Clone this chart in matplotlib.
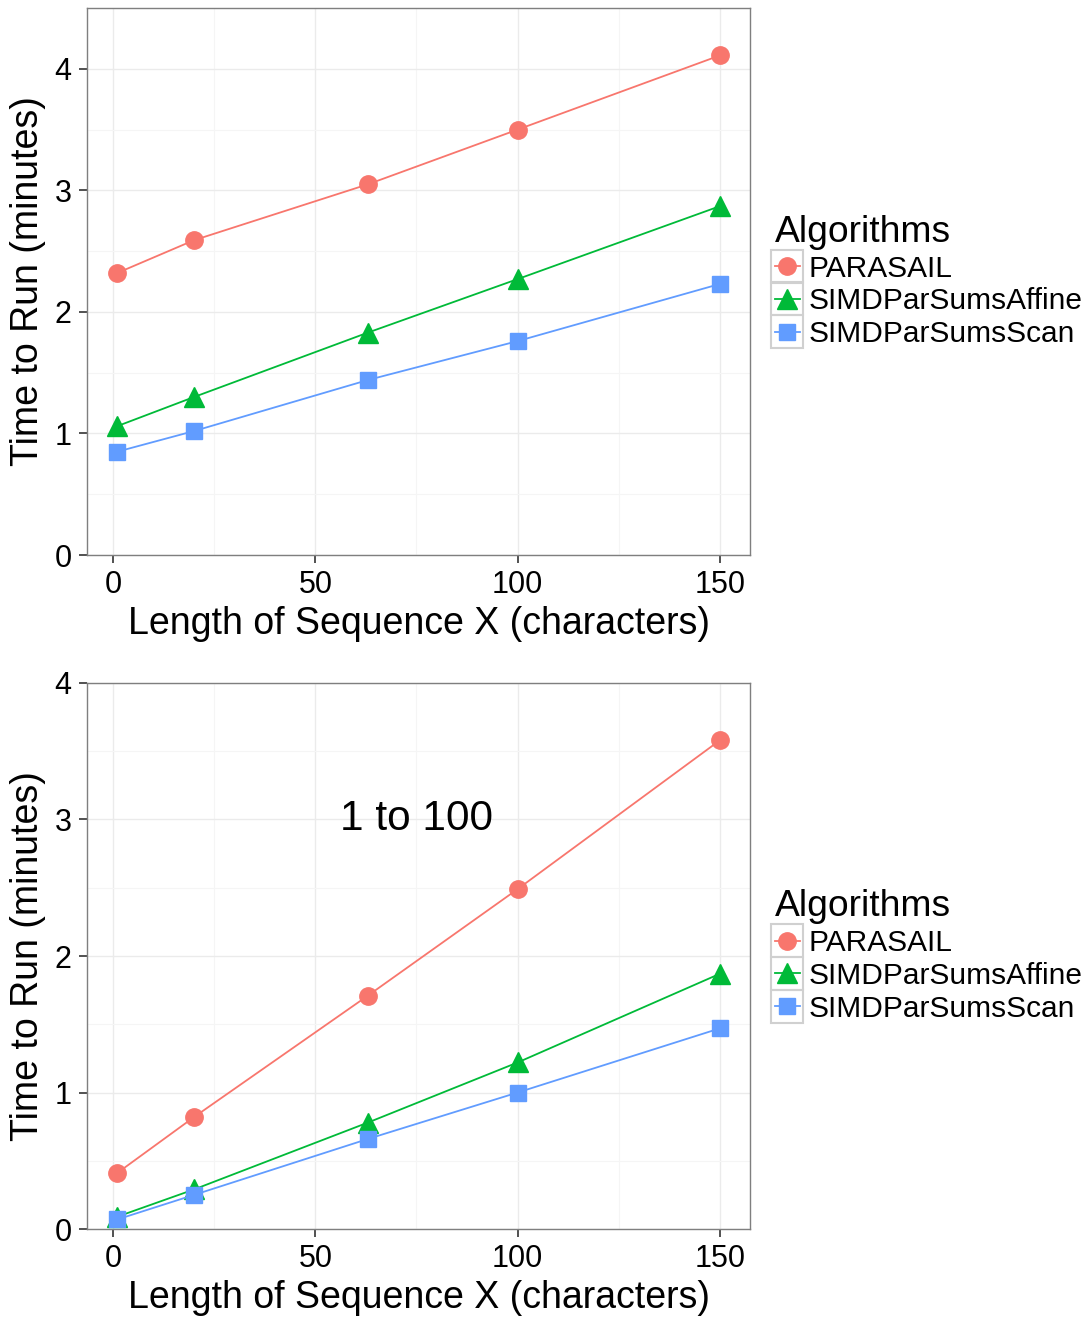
import matplotlib
matplotlib.use("Agg")
import matplotlib.pyplot as plt
from matplotlib.ticker import MultipleLocator
from matplotlib.patches import Rectangle

plt.rcParams['font.family'] = ['Liberation Sans', 'DejaVu Sans']

seq_len = [1, 20, 63, 100, 150]
algorithms = ['PARASAIL', 'SIMDParSumsAffine', 'SIMDParSumsScan']
colors = ['#F8766D', '#00BA38', '#619CFF']
markers = ['o', '^', 's']

# top panel
top_times = {
    'PARASAIL': [2.32, 2.59, 3.05, 3.50, 4.11],
    'SIMDParSumsAffine': [1.06, 1.30, 1.83, 2.27, 2.87],
    'SIMDParSumsScan': [0.85, 1.02, 1.44, 1.76, 2.23],
}
# bottom panel ("1 to 100")
bottom_times = {
    'PARASAIL': [0.41, 0.82, 1.71, 2.49, 3.58],
    'SIMDParSumsAffine': [0.09, 0.29, 0.78, 1.22, 1.87],
    'SIMDParSumsScan': [0.07, 0.25, 0.66, 1.00, 1.47],
}

W, H = 1089, 1319
fig = plt.figure(figsize=(W / 100, H / 100), dpi=100)
ax1 = fig.add_axes([0.0799, 0.5792, 0.6088, 0.4147])
ax2 = fig.add_axes([0.0799, 0.0682, 0.6088, 0.4140])

msizes = {'o': 12.5, '^': 14, 's': 12}


def style_panel(ax, data, ymax):
    for name, col, mk in zip(algorithms, colors, markers):
        ax.plot(seq_len, data[name], color=col, marker=mk, markersize=msizes[mk],
                linewidth=1.3, label=name, clip_on=False, zorder=3)
    ax.set_xlim(-6.45, 157.45)
    ax.set_ylim(0, ymax)
    ax.xaxis.set_major_locator(MultipleLocator(50))
    ax.xaxis.set_minor_locator(MultipleLocator(25))
    ax.yaxis.set_major_locator(MultipleLocator(1))
    ax.yaxis.set_minor_locator(MultipleLocator(0.5))
    ax.grid(which='major', color='#EBEBEB', linewidth=1.0, zorder=0)
    ax.grid(which='minor', color='#F5F5F5', linewidth=0.8, zorder=0)
    ax.set_axisbelow(True)
    for s in ax.spines.values():
        s.set_color('#7F7F7F')
        s.set_linewidth(1.0)
    ax.tick_params(which='major', direction='out', length=6, width=1.2,
                   color='#333333', labelsize=22, pad=5)
    ax.tick_params(which='minor', length=0)
    ax.set_xlabel('Length of Sequence X (characters)', fontsize=27, labelpad=4)
    ax.set_ylabel('Time to Run (minutes)', fontsize=27, labelpad=6)
    leg = ax.legend(title='Algorithms', loc='center left',
                    bbox_to_anchor=(1.037, 0.5), frameon=False, fontsize=21.5,
                    title_fontsize=26.8, handlelength=0.85, handletextpad=0.3,
                    labelspacing=0.16, borderaxespad=0, borderpad=0)
    leg._legend_box.align = 'left'
    return leg


legs = [style_panel(ax1, top_times, 4.5), style_panel(ax2, bottom_times, 4.0)]
ax2.text(75, 3.0, '1 to 100', fontsize=30.5, ha='center', va='center')

# grey boxes around legend keys
fig.canvas.draw()
r = fig.canvas.get_renderer()
for leg in legs:
    for h in leg.legend_handles:
        bb = h.get_window_extent(r)
        cx, cy = (bb.x0 + bb.x1) / 2, (bb.y0 + bb.y1) / 2
        fig.patches.append(Rectangle(((cx - 16) / W, (cy - 16.5) / H), 32 / W, 33 / H,
                                     transform=fig.transFigure, facecolor='none',
                                     edgecolor='#D0D0D0', linewidth=1.5))

fig.savefig('out.png', dpi=100)
